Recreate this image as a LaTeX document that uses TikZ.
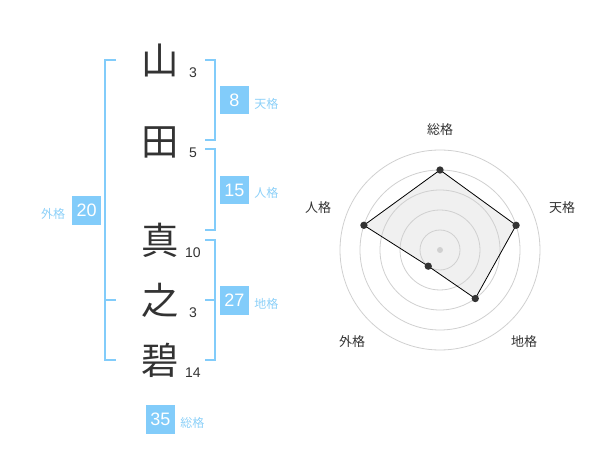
\documentclass[tikz,border=0pt]{standalone}
\usepackage{fontspec}
\setmainfont{Liberation Sans}
\newfontfamily\jp{Noto Sans CJK JP}
\definecolor{kaku}{RGB}{130,204,250}
\definecolor{kakutext}{RGB}{140,208,248}
\definecolor{sumi}{RGB}{51,51,51}
\definecolor{ringgray}{RGB}{208,208,208}
\definecolor{areagray}{RGB}{240,240,240}

\begin{document}
\begin{tikzpicture}[x=0.75pt, y=-0.75pt,
    kanji/.style={font=\jp\fontsize{28}{28}\selectfont, text=sumi, inner sep=0},
    strokes/.style={font=\fontsize{10.5}{10.5}\selectfont, text=sumi, inner sep=0},
    numbox/.style={fill=kaku, text=white, minimum size=21.5pt, inner sep=0,
      font=\fontsize{13.5}{13.5}\selectfont},
    kakuname/.style={font=\jp\fontsize{9}{9}\selectfont, text=kakutext, inner sep=0},
    bracket/.style={draw=kaku, line width=1.5pt},
    ring/.style={draw=ringgray, line width=0.6pt},
    axislabel/.style={font=\jp\fontsize{9.75}{9.75}\selectfont, text=sumi, inner sep=0},
    dot/.style={circle, fill=sumi, inner sep=0, minimum size=5.5pt},
    ]
    \useasboundingbox (0,0) rectangle (600,470);

    % name
    \node[kanji] (c1) at (160,60) {山};
    \node[kanji] (c2) at (160,142) {田};
    \node[kanji] (c3) at (160,240) {真};
    \node[kanji] (c4) at (160,300) {之};
    \node[kanji] (c5) at (160,360) {碧};

    \node[strokes] (s1) at (193,73) {3};
    \node[strokes] (s2) at (193,153) {5};
    \node[strokes] (s3) at (193,253) {10};
    \node[strokes] (s4) at (193,313) {3};
    \node[strokes] (s5) at (193,373) {14};

    % brackets
    \draw[bracket] (116,60) -- (105,60) -- (105,360) -- (116,360);
    \draw[bracket] (105,300) -- (116,300);
    \draw[bracket] (205,60) -- (215,60) -- (215,140) -- (205,140);
    \draw[bracket] (205,149) -- (215,149) -- (215,230) -- (205,230);
    \draw[bracket] (205,240) -- (215,240) -- (215,360) -- (205,360);
    \draw[bracket] (205,300) -- (215,300);

    \node[numbox] (ten) at (234.3,100) {8};
    \node[kakuname, anchor=west] (tenlbl) at (254,104) {天格};
    \node[numbox] (jin) at (234.3,190) {15};
    \node[kakuname, anchor=west] (jinlbl) at (254,193) {人格};
    \node[numbox] (chi) at (234.3,300.3) {27};
    \node[kakuname, anchor=west] (chilbl) at (254,304) {地格};
    \node[numbox] (gai) at (86.7,210.3) {20};
    \node[kakuname, anchor=east] (gailbl) at (65.5,214) {外格};
    \node[numbox] (so) at (160.3,419.3) {35};
    \node[kakuname, anchor=west] (solbl) at (180,423) {総格};

    % radar
    \node[axislabel] (rso) at (440,130) {総格};
    \node[axislabel] (rten) at (562,208) {天格};
    \node[axislabel] (rchi) at (524,342) {地格};
    \node[axislabel] (rgai) at (352,342) {外格};
    \node[axislabel] (rjin) at (318,208) {人格};

    \begin{scope}[shift={(440,250)}, yscale=-1]
      \coordinate (pso) at (90:80);
      \coordinate (pten) at (18:80);
      \coordinate (pchi) at (-54:60);
      \coordinate (pgai) at (-126:20);
      \coordinate (pjin) at (162:80);
      \fill[areagray] (pso) -- (pten) -- (pchi) -- (pgai) -- (pjin) -- cycle;
      \foreach \r in {20,40,...,100}
        \draw[ring] (0,0) circle (\r);
      \node[circle, fill=ringgray, inner sep=0, minimum size=4.5pt] (hub) at (0,0) {};
      \draw[black, line width=0.6pt] (pso) -- (pten) -- (pchi) -- (pgai) -- (pjin) -- cycle;
      \node[dot] (dso) at (pso) {};
      \node[dot] (dten) at (pten) {};
      \node[dot] (dchi) at (pchi) {};
      \node[dot] (dgai) at (pgai) {};
      \node[dot] (djin) at (pjin) {};
    \end{scope}

\end{tikzpicture}
\end{document}
